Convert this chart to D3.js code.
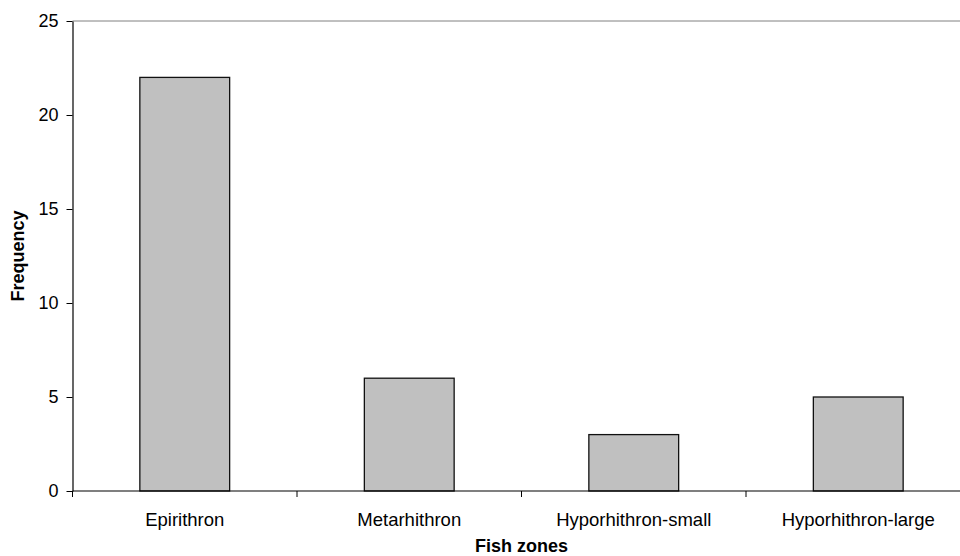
<!DOCTYPE html>
<html>
<head>
<meta charset="utf-8">
<script src="https://cdn.jsdelivr.net/npm/d3@7"></script>
<style>
  body { margin: 0; background: #fff; }
  text { font-family: "Liberation Sans", Arial, sans-serif; }
</style>
</head>
<body>
<svg id="chart"></svg>
<script>
// data
const zones = ['Epirithron', 'Metarhithron', 'Hyporhithron-small', 'Hyporhithron-large'];
const frequency = [22, 6, 3, 5];
const yTicks = [0, 5, 10, 15, 20, 25];

const width = 960;
const height = 556;
const plotLeft = 72.5, plotRight = 970.5, plotTop = 21, plotBottom = 491;

const svg = d3.select('#chart')
  .attr('width', width)
  .attr('height', height);

const xScale = d3.scaleBand()
  .domain(zones)
  .range([plotLeft, plotRight])
  .padding(0);

const yScale = d3.scaleLinear()
  .domain([0, 25])
  .range([plotBottom, plotTop]);

// top border of the plot area
svg.append('line')
  .attr('x1', plotLeft).attr('x2', width)
  .attr('y1', yScale(25)).attr('y2', yScale(25))
  .attr('stroke', '#808080')
  .attr('stroke-width', 1);

// bars
const barW = xScale.bandwidth() * 0.4;
svg.selectAll('.bar')
  .data(zones)
  .enter()
  .append('rect')
  .attr('class', 'bar')
  .attr('x', (d) => xScale(d) + (xScale.bandwidth() - barW) / 2)
  .attr('y', (d, i) => yScale(frequency[i]))
  .attr('width', barW)
  .attr('height', (d, i) => yScale(0) - yScale(frequency[i]))
  .attr('fill', '#c0c0c0')
  .attr('stroke', '#111')
  .attr('stroke-width', 1.3);

// y axis
const yAxis = d3.axisLeft(yScale)
  .tickValues(yTicks)
  .tickSize(6)
  .tickPadding(8)
  .tickSizeOuter(0);

const gy = svg.append('g')
  .attr('transform', `translate(${plotLeft}, 0)`)
  .call(yAxis);
gy.select('.domain').attr('stroke', '#000').attr('stroke-width', 1.2);
gy.selectAll('.tick line').attr('stroke', '#000');
gy.selectAll('.tick text')
  .attr('font-size', 18)
  .attr('fill', '#000')
  .style('font-family', '"Liberation Sans", Arial, sans-serif');

// x axis: tick marks at category boundaries
svg.append('line')
  .attr('x1', plotLeft).attr('x2', width)
  .attr('y1', plotBottom).attr('y2', plotBottom)
  .attr('stroke', '#000')
  .attr('stroke-width', 1.2);

const edges = zones.map((d) => xScale(d));
svg.selectAll('.xtick')
  .data(edges)
  .enter()
  .append('line')
  .attr('class', 'xtick')
  .attr('x1', (d) => d).attr('x2', (d) => d)
  .attr('y1', plotBottom).attr('y2', plotBottom + 6)
  .attr('stroke', '#000');

svg.selectAll('.xlabel')
  .data(zones)
  .enter()
  .append('text')
  .attr('class', 'xlabel')
  .attr('x', (d) => xScale(d) + xScale.bandwidth() / 2)
  .attr('y', 525.5)
  .attr('text-anchor', 'middle')
  .attr('font-size', 18.5)
  .text((d) => d);

// axis titles
svg.append('text')
  .attr('x', (plotLeft + plotRight) / 2)
  .attr('y', 552)
  .attr('text-anchor', 'middle')
  .attr('font-size', 18)
  .attr('font-weight', 'bold')
  .text('Fish zones');

svg.append('text')
  .attr('transform', `translate(23.5, ${(plotTop + plotBottom) / 2}) rotate(-90)`)
  .attr('text-anchor', 'middle')
  .attr('font-size', 18)
  .attr('font-weight', 'bold')
  .text('Frequency');
</script>
</body>
</html>
